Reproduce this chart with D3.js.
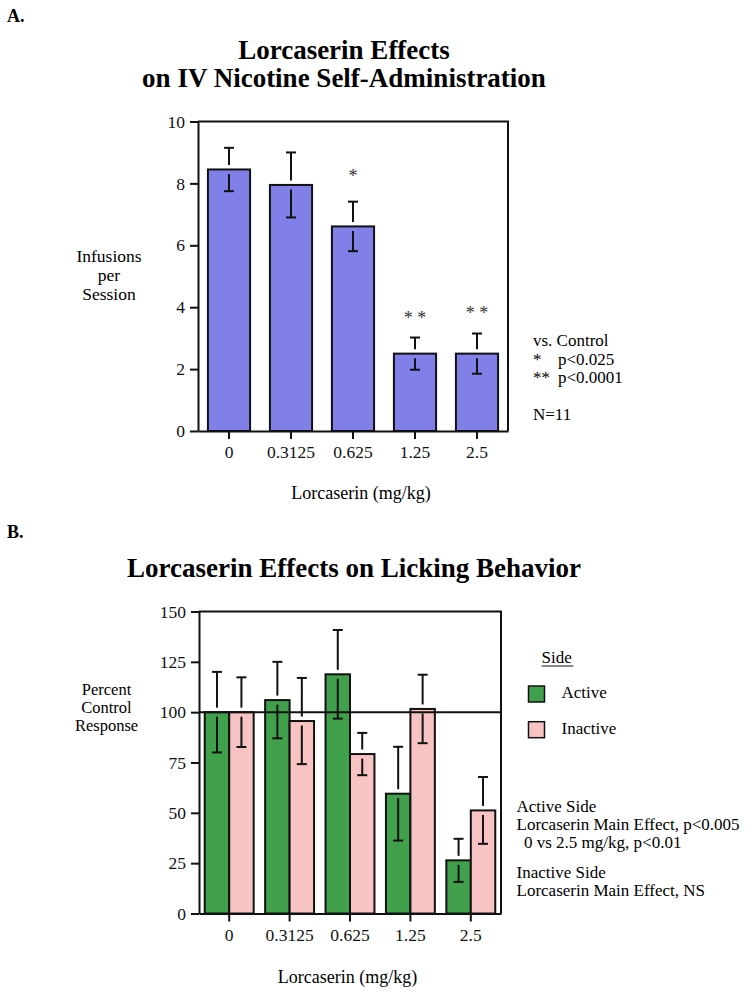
<!DOCTYPE html>
<html><head><meta charset="utf-8">
<script src="https://cdn.jsdelivr.net/npm/d3@7"></script>
<style>
body{margin:0;background:#fff;}
svg{display:block;font-family:"Liberation Serif","Times New Roman",serif;}
</style></head>
<body><svg id="c" width="751" height="992"></svg>
<script>
// ---- data ----
const doses = ["0", "0.3125", "0.625", "1.25", "2.5"];
const infusionMean = [8.45, 7.95, 6.61, 2.50, 2.50];
const infusionSEM = [0.70, 1.05, 0.80, 0.52, 0.65];
const infusionSig = ["", "", "*", "* *", "* *"];
const infusionSigLevel = [null, null, 8.35, 3.75, 3.9];
const yTicksA = [0, 2, 4, 6, 8, 10];

const sides = ["Active", "Inactive"];
const activeMean = [100, 106, 118.8, 59.5, 26.4];
const activeSEM = [20, 19, 22, 23.3, 10.7];
const inactiveMean = [100, 95.6, 79.2, 101.6, 51.2];
const inactiveSEM = [17.3, 21.4, 10.5, 17, 16.6];
const yTicksB = [0, 25, 50, 75, 100, 125, 150];

const colA = "#8080e8";
const colActive = "#40a04c";
const colInactive = "#f7c3c3";
const ink = "#111";

const svg = d3.select("#c");
const FS = 17.5;

function errBar(g, cx, yScale, mean, sem, gap) {
  const yt = yScale(mean), yh = yScale(mean + sem), yl = yScale(mean - sem);
  const cw = 5;
  g.append("line").attr("x1", cx).attr("x2", cx).attr("y1", yt - gap).attr("y2", yh);
  g.append("line").attr("x1", cx - cw).attr("x2", cx + cw).attr("y1", yh).attr("y2", yh);
  g.append("line").attr("x1", cx).attr("x2", cx).attr("y1", yt + gap).attr("y2", yl);
  g.append("line").attr("x1", cx - cw).attr("x2", cx + cw).attr("y1", yl).attr("y2", yl);
}

function styleAxis(g) {
  g.selectAll("path,line").attr("stroke", ink).attr("stroke-width", 2);
  g.selectAll("text").attr("font-size", FS).attr("fill", ink)
    .attr("font-family", '"Liberation Serif","Times New Roman",serif');
}

// ================= Panel A =================
{
  const L = 198, R = 508, T = 121.5, B = 431;
  const x = d3.scaleBand().domain(doses).range([L, R]).paddingInner(0.32).paddingOuter(0.16);
  const y = d3.scaleLinear().domain([0, 10]).range([B, T]);

  svg.append("text").attr("x", 7).attr("y", 22).attr("font-weight", "bold").attr("font-size", 18).text("A.");
  const tA = svg.append("text").attr("font-weight", "bold").attr("font-size", 27).attr("text-anchor", "middle");
  tA.append("tspan").attr("x", 344).attr("y", 58.5).text("Lorcaserin Effects");
  tA.append("tspan").attr("x", 344).attr("y", 87).text("on IV Nicotine Self-Administration");

  const gb = svg.append("g");
  gb.selectAll("rect").data(doses).join("rect")
    .attr("x", d => x(d)).attr("width", x.bandwidth())
    .attr("y", (d, i) => y(infusionMean[i])).attr("height", (d, i) => B - y(infusionMean[i]))
    .attr("fill", colA).attr("stroke", ink).attr("stroke-width", 2);

  const ge = svg.append("g").attr("stroke", ink).attr("stroke-width", 2);
  doses.forEach((d, i) => errBar(ge, x(d) + x.bandwidth() / 2, y, infusionMean[i], infusionSEM[i], 4.5));

  doses.forEach((d, i) => {
    if (!infusionSig[i]) return;
    svg.append("text").attr("x", x(d) + x.bandwidth() / 2).attr("y", y(infusionSigLevel[i]) + 9)
      .attr("text-anchor", "middle").attr("font-size", 18).attr("fill", "#333").text(infusionSig[i]);
  });

  // frame
  svg.append("path").attr("d", `M${L},${T}H${R}V${B}`).attr("fill", "none").attr("stroke", ink).attr("stroke-width", 2);

  const ax = svg.append("g").attr("transform", `translate(0,${B})`)
    .call(d3.axisBottom(x).tickSize(8).tickPadding(7).tickSizeOuter(0));
  styleAxis(ax);
  const ay = svg.append("g").attr("transform", `translate(${L},0)`)
    .call(d3.axisLeft(y).tickValues(yTicksA).tickSize(8).tickPadding(5).tickSizeOuter(0));
  styleAxis(ay);

  const yl = svg.append("text").attr("text-anchor", "middle").attr("font-size", 17.5);
  [["Infusions", 261.5], ["per", 280.5], ["Session", 299.5]].forEach(([t, yy]) =>
    yl.append("tspan").attr("x", 109).attr("y", yy).text(t));

  svg.append("text").attr("x", 361).attr("y", 499).attr("text-anchor", "middle").attr("font-size", 18)
    .text("Lorcaserin (mg/kg)");

  const n = svg.append("g").attr("font-size", 17);
  n.append("text").attr("x", 533).attr("y", 346).text("vs. Control");
  n.append("text").attr("x", 533).attr("y", 364.5).text("*");
  n.append("text").attr("x", 558).attr("y", 364.5).text("p<0.025");
  n.append("text").attr("x", 533).attr("y", 383).text("**");
  n.append("text").attr("x", 558).attr("y", 383).text("p<0.0001");
  n.append("text").attr("x", 533).attr("y", 420).text("N=11");
}

// ================= Panel B =================
{
  const L = 199, R = 501, T = 611.5, B = 913.5;
  const x0 = d3.scaleBand().domain(doses).range([L, R]).paddingInner(0.19).paddingOuter(0.095);
  const x1 = d3.scaleBand().domain(sides).range([0, x0.bandwidth()]);
  const y = d3.scaleLinear().domain([0, 150]).range([B, T]);
  const means = { Active: activeMean, Inactive: inactiveMean };
  const sems = { Active: activeSEM, Inactive: inactiveSEM };
  const cols = { Active: colActive, Inactive: colInactive };

  svg.append("text").attr("x", 7).attr("y", 538).attr("font-weight", "bold").attr("font-size", 18).text("B.");
  svg.append("text").attr("x", 354).attr("y", 577).attr("text-anchor", "middle")
    .attr("font-weight", "bold").attr("font-size", 27).text("Lorcaserin Effects on Licking Behavior");

  const groups = svg.append("g").selectAll("g").data(doses).join("g")
    .attr("transform", d => `translate(${x0(d)},0)`);
  groups.selectAll("rect").data((d, i) => sides.map(s => ({ s, v: means[s][i] }))).join("rect")
    .attr("x", d => x1(d.s)).attr("width", x1.bandwidth())
    .attr("y", d => y(d.v)).attr("height", d => B - y(d.v))
    .attr("fill", d => cols[d.s]).attr("stroke", ink).attr("stroke-width", 2);

  // reference line at 100
  svg.append("line").attr("x1", L).attr("x2", R).attr("y1", y(100)).attr("y2", y(100))
    .attr("stroke", ink).attr("stroke-width", 2);

  const ge = svg.append("g").attr("stroke", ink).attr("stroke-width", 2);
  doses.forEach((d, i) => sides.forEach(s =>
    errBar(ge, x0(d) + x1(s) + x1.bandwidth() / 2, y, means[s][i], sems[s][i], 4.5)));

  svg.append("path").attr("d", `M${L},${T}H${R}V${B}`).attr("fill", "none").attr("stroke", ink).attr("stroke-width", 2);

  const ax = svg.append("g").attr("transform", `translate(0,${B})`)
    .call(d3.axisBottom(x0).tickSize(8).tickPadding(7).tickSizeOuter(0));
  styleAxis(ax);
  const ay = svg.append("g").attr("transform", `translate(${L},0)`)
    .call(d3.axisLeft(y).tickValues(yTicksB).tickSize(8).tickPadding(5).tickSizeOuter(0));
  styleAxis(ay);

  const yl = svg.append("text").attr("text-anchor", "middle").attr("font-size", 16.5);
  [["Percent", 694.5], ["Control", 712.5], ["Response", 730.5]].forEach(([t, yy]) =>
    yl.append("tspan").attr("x", 106.5).attr("y", yy).text(t));

  svg.append("text").attr("x", 347.5).attr("y", 982.5).attr("text-anchor", "middle").attr("font-size", 18)
    .text("Lorcaserin (mg/kg)");

  // legend
  const lg = svg.append("g").attr("font-size", 17);
  lg.append("text").attr("x", 541.5).attr("y", 663).text("Side");
  lg.append("line").attr("x1", 541.5).attr("x2", 573.5).attr("y1", 666).attr("y2", 666).attr("stroke", ink).attr("stroke-width", 1);
  sides.forEach((s, i) => {
    lg.append("rect").attr("x", 528.5).attr("y", 686 + i * 35.7).attr("width", 16).attr("height", 16)
      .attr("fill", cols[s]).attr("stroke", ink).attr("stroke-width", 1.5);
    lg.append("text").attr("x", 561.5).attr("y", 698 + i * 35.7).text(s);
  });

  const notes = [["Active Side", 516.5, 811.5], ["Lorcaserin Main Effect, p<0.005", 516.5, 829.5],
    ["0 vs 2.5 mg/kg, p<0.01", 524, 847.5], ["Inactive Side", 516.5, 877.5],
    ["Lorcaserin Main Effect, NS", 516.5, 895.5]];
  notes.forEach(([t, xx, yy]) => lg.append("text").attr("x", xx).attr("y", yy).text(t));
}
</script></body></html>
